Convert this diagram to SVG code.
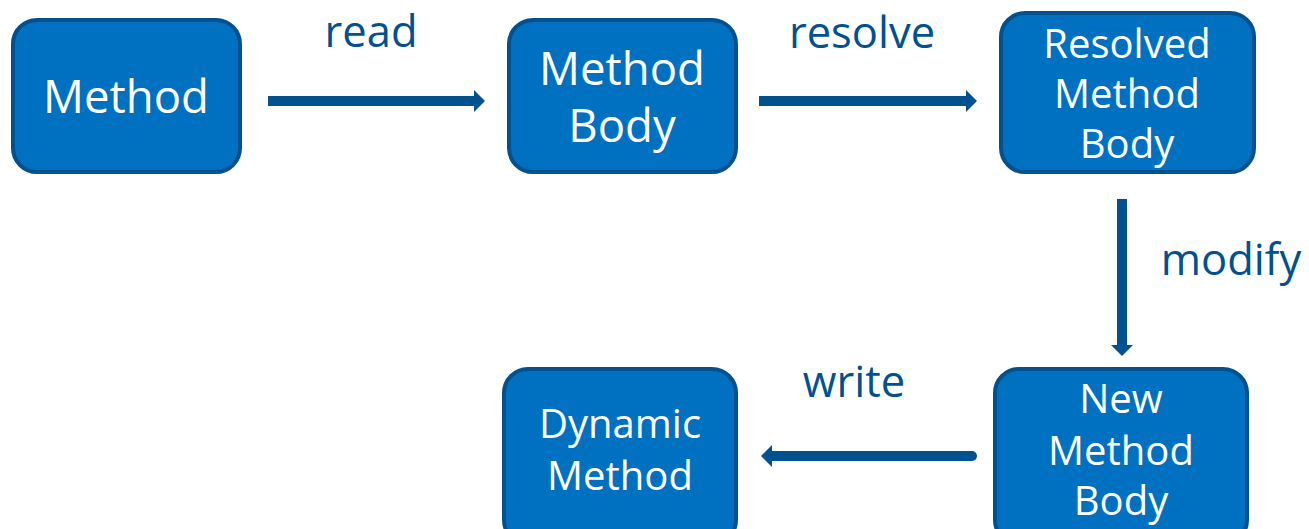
<svg xmlns="http://www.w3.org/2000/svg" width="1309" height="529" viewBox="0 0 1309 529">
  <style>
    .box { fill: #0070C0; stroke: #00518E; stroke-width: 4; }
    .nt { fill: #FFFFFF; font-family: "Open Sans", "Noto Sans", sans-serif; text-anchor: middle; }
    .lbl { fill: #00518E; font-family: "Open Sans", "Noto Sans", sans-serif; font-size: 43.5px; text-anchor: middle; }
    .edge { stroke: #00518E; stroke-width: 10; fill: none; }
  </style>
  <defs>
    <marker id="head" markerUnits="userSpaceOnUse" markerWidth="12" markerHeight="24" refX="1" refY="11" orient="auto">
      <path d="M0,0 L11,11 L0,22 Z" fill="#00518E"/>
    </marker>
  </defs>

  <!-- connectors -->
  <g id="connectors">
    <line class="edge" x1="268" y1="101" x2="475" y2="101" marker-end="url(#head)"/>
    <line class="edge" x1="759" y1="101" x2="967" y2="101" marker-end="url(#head)"/>
    <line class="edge" x1="1122" y1="199" x2="1122" y2="346" marker-end="url(#head)"/>
    <line class="edge" x1="972" y1="456" x2="771" y2="456" stroke-linecap="round" marker-end="url(#head)"/>
    <text class="lbl" x="371" y="47">read</text>
    <text class="lbl" x="862" y="48">resolve</text>
    <text class="lbl" x="1231" y="275">modify</text>
    <text class="lbl" x="854" y="397">write</text>
  </g>

  <g id="node-method">
    <rect class="box" x="13" y="20" width="227" height="152" rx="24"/>
    <text class="nt" font-size="45.5" x="126" y="113">Method</text>
  </g>

  <g id="node-method-body">
    <rect class="box" x="509" y="20" width="227" height="152" rx="24"/>
    <text class="nt" font-size="45.5" x="622" y="85">Method</text>
    <text class="nt" font-size="45.5" x="622" y="142">Body</text>
  </g>

  <g id="node-resolved-method-body">
    <rect class="box" x="1001" y="13" width="253" height="159" rx="24"/>
    <text class="nt" font-size="40" x="1127" y="58">Resolved</text>
    <text class="nt" font-size="40" x="1127" y="108">Method</text>
    <text class="nt" font-size="40" x="1127" y="158">Body</text>
  </g>

  <g id="node-new-method-body">
    <rect class="box" x="995" y="369" width="252" height="175" rx="24"/>
    <text class="nt" font-size="40" x="1121" y="413">New</text>
    <text class="nt" font-size="40" x="1121" y="465">Method</text>
    <text class="nt" font-size="40" x="1121" y="515">Body</text>
  </g>

  <g id="node-dynamic-method">
    <rect class="box" x="504" y="369" width="232" height="175" rx="24"/>
    <text class="nt" font-size="40" x="620" y="438">Dynamic</text>
    <text class="nt" font-size="40" x="620" y="490">Method</text>
  </g>
</svg>
